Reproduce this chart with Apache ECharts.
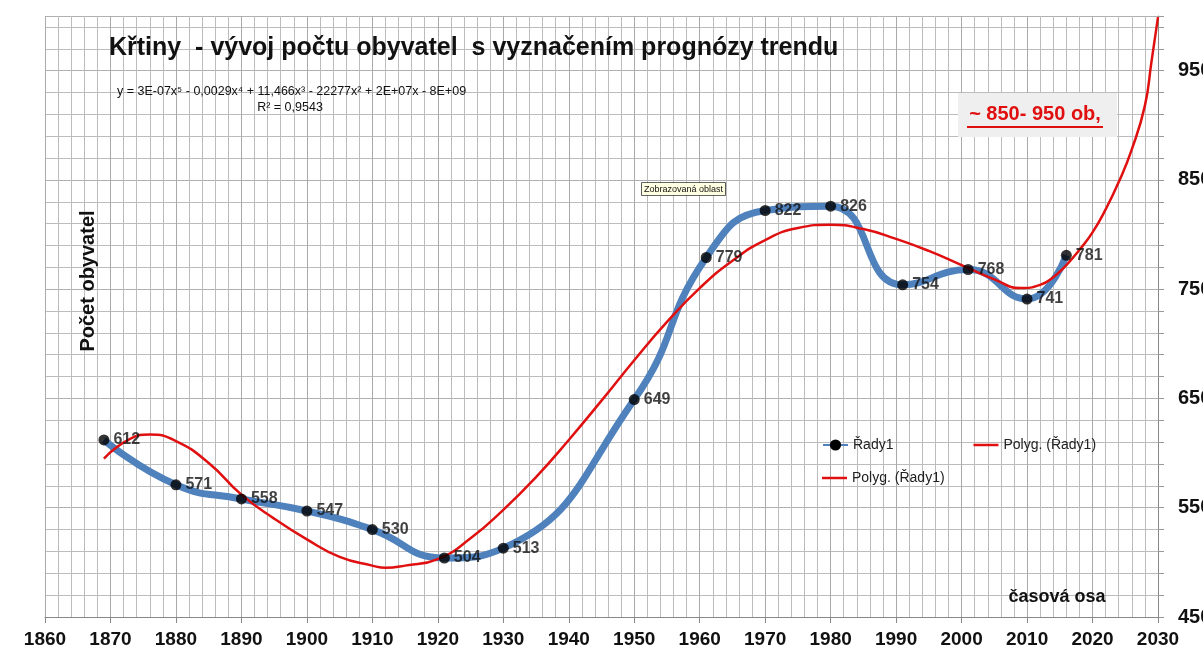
<!DOCTYPE html>
<html>
<head>
<meta charset="utf-8">
<script src="https://cdn.jsdelivr.net/npm/echarts@6/dist/echarts.min.js"></script>
<style>
  html, body { margin: 0; padding: 0; background: #fff; }
  #chart { width: 1203px; height: 654px; }
</style>
</head>
<body>
<div id="chart"></div>
<script>
// census years and population (Řady1)
const years = [1869, 1880, 1890, 1900, 1910, 1921, 1930, 1950, 1961, 1970, 1980, 1991, 2001, 2010, 2016];
const population = [612, 571, 558, 547, 530, 504, 513, 649, 779, 822, 826, 754, 768, 741, 781];

// polynomial trend line
const trendYears = [1869, 1873, 1876, 1880, 1885, 1890, 1895, 1900, 1905, 1910, 1912, 1915, 1920, 1925, 1930,
  1935, 1940, 1945, 1950, 1955, 1960, 1965, 1970, 1975, 1980, 1985, 1990, 1995, 2000, 2005, 2009, 2012,
  2014, 2016, 2018, 2020, 2022, 2024, 2026, 2028, 2029, 2030];
const trendValues = [595, 613, 617, 611, 591, 562, 540, 521, 505, 497, 495, 497, 503, 522, 548,
  578, 612, 648, 685, 720, 751, 776, 795, 806, 809, 805, 796, 785, 772, 759, 751, 754,
  761, 772, 786, 802, 823, 848, 878, 918, 958, 999];

const seriesName = "Řady1";
const trendName = "Polyg. (Řady1)";

const pts = years.map((y, i) => [y, population[i]]);
const trendPts = trendYears.map((y, i) => [y, trendValues[i]]);

const chart = echarts.init(document.getElementById("chart"));
const sans = "Liberation Sans, Arial, sans-serif";
const redLineIcon = "path://M0,0H25V2.5H0Z";
const legendText = { fontFamily: sans, fontSize: 14, color: "#222" };

chart.setOption({
  backgroundColor: "#fff",
  animation: false,
  title: {
    text: "Křtiny  - vývoj počtu obyvatel  s vyznačením prognózy trendu",
    left: 109,
    top: 36,
    padding: 0,
    textStyle: { fontFamily: sans, fontSize: 25, fontWeight: "bold", color: "#111" },
  },
  grid: { left: 45, right: 45, top: 16, bottom: 37, outerBoundsMode: "none", containLabel: false },
  legend: [
    {
      left: 822,
      top: 438,
      padding: 0,
      itemWidth: 25,
      itemHeight: 14,
      itemGap: 80,
      textStyle: legendText,
      data: [seriesName, { name: trendName, icon: redLineIcon }],
    },
    {
      left: 822,
      top: 471,
      padding: 0,
      itemWidth: 25,
      itemHeight: 14,
      textStyle: legendText,
      data: [{ name: trendName, icon: redLineIcon }],
    },
  ],
  xAxis: {
    type: "value",
    min: 1860,
    max: 2030,
    interval: 10,
    axisLine: { lineStyle: { color: "#888" } },
    axisTick: { show: true, length: 6, lineStyle: { color: "#888" } },
    axisLabel: {
      margin: 13,
      formatter: (v) => String(v),
      fontFamily: sans,
      fontSize: 19,
      fontWeight: "bold",
      color: "#111",
    },
    splitLine: { show: true, lineStyle: { color: "#aaaaaa", width: 1 } },
    minorTick: { show: false, splitNumber: 5 },
    minorSplitLine: { show: true, lineStyle: { color: "#bcbcbc", width: 1 } },
  },
  yAxis: {
    type: "value",
    position: "right",
    min: 450,
    max: 1000,
    interval: 100,
    axisLine: { show: true, lineStyle: { color: "#888" } },
    axisTick: { show: true, length: 6, lineStyle: { color: "#999" } },
    minorTick: { show: true, splitNumber: 5, length: 6, lineStyle: { color: "#999" } },
    axisLabel: {
      margin: 20,
      showMaxLabel: false,
      fontFamily: sans,
      fontSize: 20,
      fontWeight: "bold",
      color: "#111",
    },
    splitLine: { show: true, lineStyle: { color: "#b0b0b0", width: 1 } },
    minorSplitLine: { show: true, lineStyle: { color: "#bcbcbc", width: 1 } },
  },
  series: [
    {
      name: seriesName,
      type: "line",
      data: pts,
      smooth: 0.5,
      showSymbol: false,
      symbol: "circle",
      z: 2,
      itemStyle: { color: "#000" },
      lineStyle: { color: "#4f81bd", width: 7 },
    },
    {
      name: trendName,
      type: "line",
      data: trendPts,
      smooth: true,
      showSymbol: false,
      z: 3,
      itemStyle: { color: "#e01010" },
      lineStyle: { color: "#e01010", width: 2.5 },
    },
    {
      name: "points",
      type: "scatter",
      data: pts,
      symbolSize: 11,
      z: 4,
      itemStyle: { color: "#000" },
      label: {
        show: true,
        position: "right",
        distance: 4,
        formatter: (p) => p.value[1],
        fontFamily: sans,
        fontSize: 16,
        fontWeight: "bold",
        color: "#111",
      },
    },
  ],
  graphic: [
    {
      type: "text",
      x: 117,
      y: 92,
      z: 100,
      style: {
        text: "y = 3E-07x⁵ - 0,0029x⁴ + 11,466x³ - 22277x² + 2E+07x - 8E+09",
        font: "12.5px Liberation Sans, Arial",
        fill: "#111",
        textVerticalAlign: "middle",
      },
    },
    {
      type: "text",
      x: 290,
      y: 108,
      z: 100,
      style: {
        text: "R² = 0,9543",
        font: "12.5px Liberation Sans, Arial",
        fill: "#111",
        textAlign: "center",
        textVerticalAlign: "middle",
      },
    },
    {
      type: "text",
      x: 88,
      y: 281,
      z: 100,
      rotation: Math.PI / 2,
      style: {
        text: "Počet obyvatel",
        font: "bold 20px Liberation Sans, Arial",
        fill: "#111",
        textAlign: "center",
        textVerticalAlign: "middle",
      },
    },
    {
      type: "text",
      x: 1057,
      y: 597,
      z: 100,
      style: {
        text: "časová osa",
        font: "bold 18px Liberation Sans, Arial",
        fill: "#111",
        textAlign: "center",
        textVerticalAlign: "middle",
      },
    },
    {
      type: "rect",
      shape: { x: 958, y: 93, width: 159, height: 44 },
      style: { fill: "#efefef" },
      z: 100,
    },
    {
      type: "text",
      x: 1035,
      y: 114,
      z: 101,
      style: {
        text: "~ 850- 950 ob,",
        font: "bold 20px Liberation Sans, Arial",
        fill: "#e01010",
        textAlign: "center",
        textVerticalAlign: "middle",
      },
    },
    {
      type: "line",
      shape: { x1: 967, y1: 127, x2: 1103, y2: 127 },
      style: { stroke: "#e01010", lineWidth: 2 },
      z: 101,
    },
    {
      type: "text",
      x: 642,
      y: 183,
      z: 101,
      style: {
        text: "Zobrazovaná oblast",
        font: "9px Liberation Sans, Arial",
        fill: "#111",
        backgroundColor: "#ffffe1",
        borderColor: "#333",
        borderWidth: 0.8,
        padding: [2, 2, 1, 2],
      },
    },
  ],
});

window.addEventListener("resize", () => chart.resize());
</script>
</body>
</html>
